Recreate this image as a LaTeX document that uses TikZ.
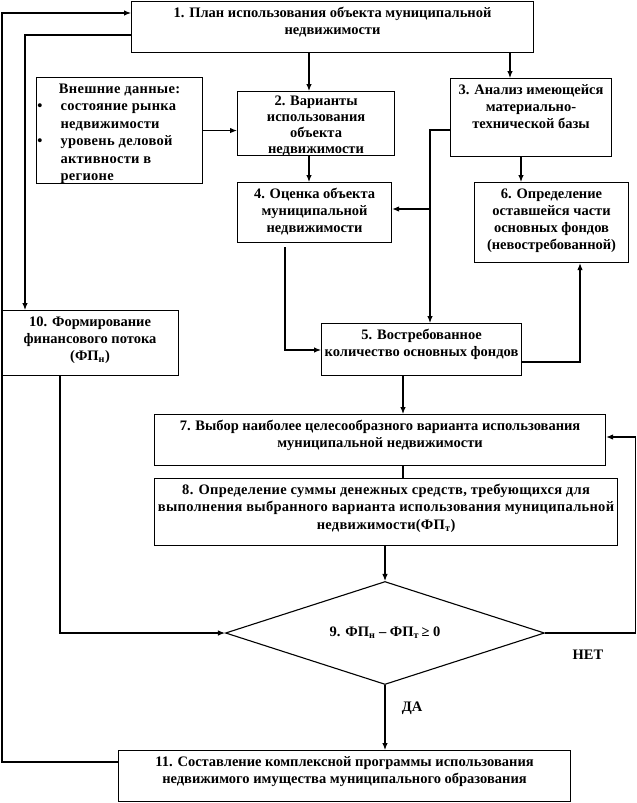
\documentclass[tikz,border=0pt]{standalone}
\usepackage{fontspec}
\setmainfont{Liberation Serif}
\newfontfamily\spacedff{Liberation Serif}[LetterSpace=1.9]
\newfontfamily\spacedsm{Liberation Serif}[LetterSpace=2.0]
\usetikzlibrary{shapes.geometric,arrows.meta}
\newcommand\bxt[3]{\begin{minipage}[c][#2][t]{#1}\centering\rule{0pt}{15.5pt}#3\end{minipage}}
\begin{document}
\begin{tikzpicture}[x=1pt,y=-1pt,
  txt/.style={font=\fontsize{14.5}{17}\selectfont\bfseries},
  box/.style={draw, txt, line width=1.1pt, inner sep=0pt, anchor=north west},
  arr/.style={line width=1.1pt, -{Latex[length=7pt,width=5.5pt]}},
  ln/.style={line width=1.1pt},
  lbl/.style={txt, inner sep=0pt}]
\useasboundingbox (0,0) rectangle (637,803);
\node[box] (b1) at (131,1) {\bxt{402pt}{51pt}{1. План использования объекта муниципальной\\недвижимости}};
\node[box, font=\fontsize{14.5}{17.5}\selectfont\spacedsm\bfseries] (ext) at (36,77) {\begin{minipage}[c][106pt][t]{166pt}\centering\rule{0pt}{15.5pt}Внешние данные:\par
  \raggedright\leftskip=24pt
  \leavevmode\llap{•\hspace{18pt}}состояние рынка\\недвижимости\par
  \leavevmode\llap{•\hspace{18pt}}уровень деловой\\активности в\\регионе\par\end{minipage}};
\node[box, font=\fontsize{14.5}{16}\selectfont\bfseries] (b2) at (237,91) {\begin{minipage}[c][64pt][t]{157pt}\centering\rule{0pt}{14pt}2. Варианты\\использования\\объекта\\недвижимости\end{minipage}};
\node[box] (b3) at (450,78) {\bxt{161pt}{78pt}{3. Анализ имеющейся\\материально-\\технической базы}};
\node[box] (b4) at (237,182) {\bxt{154pt}{60pt}{4. Оценка объекта\\муниципальной\\недвижимости}};
\node[box] (b6) at (474,182) {\bxt{154pt}{80pt}{6. Определение\\оставшейся части\\основных фондов\\(невостребованной)}};
\node[box] (b10) at (1,310) {\bxt{177pt}{65pt}{10. Формирование\\финансового потока\\(ФП\textsubscript{н})}};
\node[box] (b5) at (321,323) {\bxt{200pt}{52pt}{5. Востребованное\\\mbox{количество основных фондов}}};
\node[box] (b7) at (154,414) {\bxt{451pt}{51pt}{7. Выбор наиболее целесообразного варианта использования\\муниципальной недвижимости}};
\node[box, font=\fontsize{14.5}{17.5}\selectfont\spacedff\bfseries] (b8) at (154,478) {\bxt{463pt}{67pt}{8. Определение суммы денежных средств, требующихся для\\\mbox{выполнения выбранного варианта использования муниципальной}\\недвижимости(ФП\textsubscript{т})}};
\node[box] (b11) at (118,750) {\bxt{452pt}{51pt}{11. Составление комплексной программы использования\\недвижимого имущества муниципального образования}};
\node[draw, diamond, txt, line width=1.1pt, inner sep=0pt, aspect=3.1, minimum width=319pt, minimum height=103pt] (d9) at (385,633) {9. ФП\textsubscript{н} – ФП\textsubscript{т}\,≥ 0};
\node[lbl] (no) at (588,655) {НЕТ};
\node[lbl] (yes) at (412,708) {ДА};
\draw[arr] (b11.west |- 0,762) -- (2,762) |- (b1.west |- 0,13);
\draw[arr] (b1.west |- 0,35) -| (25,0 |- b10.north);
\draw[arr] (309,0 |- b1.south) -- (309,0 |- b2.north);
\draw[arr] (510,0 |- b1.south) -- (510,0 |- b3.north);
\draw[arr] (ext.east) -- (ext.east -| b2.west);
\draw[arr] (309,0 |- b2.south) -- (309,0 |- b4.north);
\draw[arr] (521,0 |- b3.south) -- (521,0 |- b6.north);
\coordinate (j) at (430,209);
\draw[arr] (b3.west |- 0,130) -| (j |- b5.north);
\draw[arr] (j) -- (b4.east |- j);
\draw[arr] (285,0 |- b4.south) ++(0,4) |- (b5.west |- 0,350);
\draw[arr] (b5.east |- 0,362) -| (580,0 |- b6.south);
\draw[arr] (403,0 |- b5.south) -- (403,0 |- b7.north);
\draw[ln] (403,0 |- b7.south) -- (403,0 |- b8.north);
\draw[arr] (d9.north |- b8.south) -- (d9.north);
\draw[arr] (60,0 |- b10.south) |- (d9.west);
\draw[arr] (d9.east) -- ++(90,0) |- (b7.east |- 0,437);
\draw[arr] (d9.south) -- (d9.south |- b11.north);
\end{tikzpicture}
\end{document}
